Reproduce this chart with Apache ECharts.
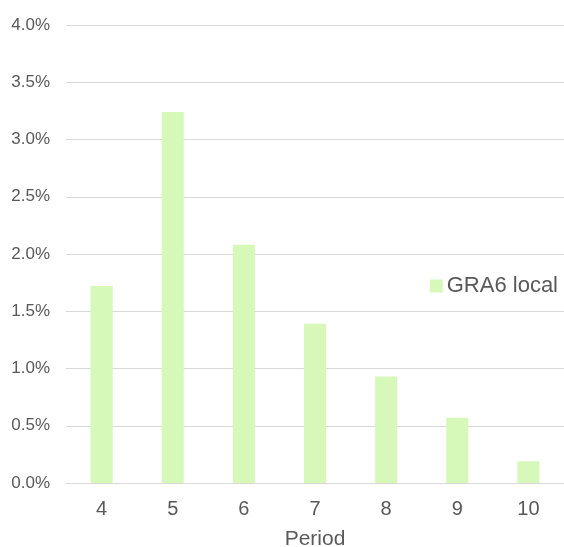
<!DOCTYPE html>
<html>
<head>
<meta charset="utf-8">
<script src="https://cdn.jsdelivr.net/npm/echarts@6/dist/echarts.min.js"></script>
<style>
  html, body { margin: 0; padding: 0; background: #ffffff; }
  #chart { width: 564px; height: 547px; }
</style>
</head>
<body>
<div id="chart"></div>
<script>
// Share of GRA6 local by period (percent)
var periods = ['4', '5', '6', '7', '8', '9', '10'];
var gra6Local = [1.72, 3.24, 2.08, 1.39, 0.93, 0.57, 0.19];
var seriesName = 'GRA6 local';
var axisName = 'Period';

var textColor = '#595959';
var fontFamily = 'Arial, "Liberation Sans", sans-serif';

var chart = echarts.init(document.getElementById('chart'), null, { renderer: 'canvas' });
chart.setOption({
  animation: false,
  backgroundColor: '#ffffff',
  grid: {
    left: 66, right: 0, top: 25, bottom: 64,
    containLabel: false,
    outerBoundsMode: 'none'
  },
  legend: {
    data: [seriesName],
    right: 1,
    top: 270,
    itemWidth: 13,
    itemHeight: 13,
    itemGap: 4,
    icon: 'rect',
    textStyle: { color: textColor, fontSize: 22, fontFamily: fontFamily, padding: [0, 0, 0, -1] }
  },
  xAxis: {
    type: 'category',
    data: periods,
    name: axisName,
    nameLocation: 'middle',
    nameGap: 46,
    nameTextStyle: { color: textColor, fontSize: 21, fontFamily: fontFamily },
    axisLine: { show: true, lineStyle: { color: '#d9d9d9', width: 1 } },
    axisTick: { show: false },
    axisLabel: { color: textColor, fontSize: 20, fontFamily: fontFamily, margin: 16 }
  },
  yAxis: {
    type: 'value',
    min: 0,
    max: 4,
    interval: 0.5,
    axisLine: { show: false },
    axisTick: { show: false },
    splitLine: { lineStyle: { color: '#d9d9d9', width: 1 } },
    axisLabel: {
      color: textColor,
      fontSize: 17,
      fontFamily: fontFamily,
      margin: 16,
      formatter: function (v) { return v.toFixed(1) + '%'; }
    }
  },
  series: [{
    name: seriesName,
    type: 'bar',
    data: gra6Local,
    barWidth: '31%',
    itemStyle: { color: '#d6f8b8' }
  }]
});
</script>
</body>
</html>
